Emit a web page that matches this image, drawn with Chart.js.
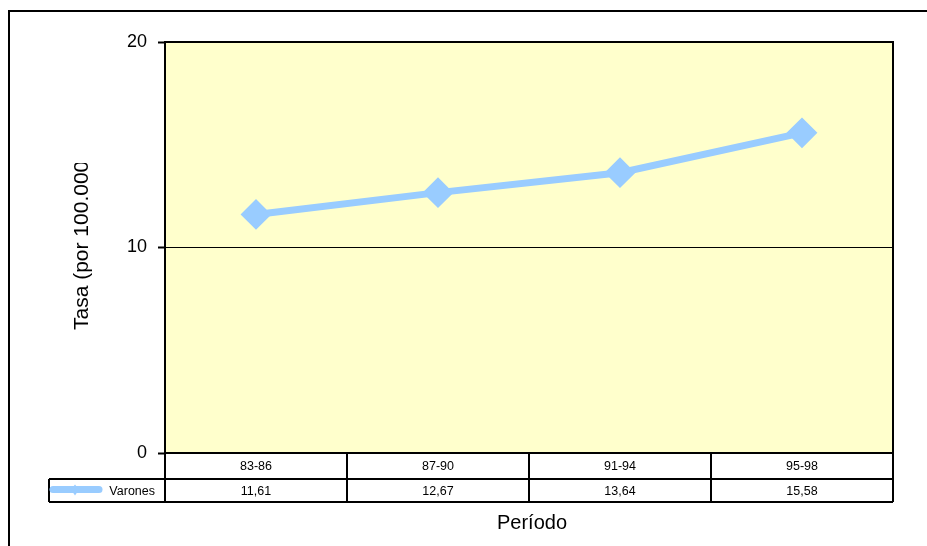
<!DOCTYPE html>
<html>
<head>
<meta charset="utf-8">
<script src="https://cdn.jsdelivr.net/npm/chart.js@4.4.1/dist/chart.umd.min.js"></script>
<style>
  html, body { margin: 0; padding: 0; background: #ffffff; }
  #wrap { width: 927px; height: 546px; position: relative; }
</style>
</head>
<body>
<div id="wrap"><canvas id="c" width="927" height="546"></canvas></div>
<script>
// Chart data
const periods = ['83-86', '87-90', '91-94', '95-98'];
const varones = [11.61, 12.67, 13.64, 15.58];
const seriesName = 'Varones';
const yTicks = [0, 10, 20];
const yTitle = 'Tasa (por 100.000 habitantes)';
const xTitle = 'Período';

const FONT = '"Liberation Sans", Arial, sans-serif';
const LINE_COLOR = '#99CCFF';

const fmt = v => v.toFixed(2).replace('.', ',');

// Backgrounds, data table, axis titles and frame
const framePlugin = {
  id: 'frame',
  beforeDraw(chart) {
    const { ctx, chartArea: a } = chart;
    ctx.save();
    ctx.fillStyle = '#ffffff';
    ctx.fillRect(0, 0, chart.width, chart.height);
    ctx.fillStyle = '#FFFFCC';
    ctx.fillRect(a.left, a.top, a.right - a.left, a.bottom - a.top);
    ctx.restore();
  },
  afterDraw(chart) {
    const { ctx, chartArea: a } = chart;
    const xs = chart.scales.x;
    ctx.save();
    ctx.strokeStyle = '#000';
    ctx.lineWidth = 2;

    // plot area border
    ctx.strokeRect(a.left, a.top, a.right - a.left, a.bottom - a.top);

    // data table grid
    const row1 = a.bottom, row2 = a.bottom + 26, row3 = a.bottom + 49;
    const legendLeft = 49;
    ctx.beginPath();
    ctx.moveTo(legendLeft, row2); ctx.lineTo(a.right, row2);
    ctx.moveTo(legendLeft, row3); ctx.lineTo(a.right, row3);
    ctx.moveTo(legendLeft, row2); ctx.lineTo(legendLeft, row3);
    ctx.moveTo(a.left, row1); ctx.lineTo(a.left, row3);
    ctx.moveTo(a.right, row1); ctx.lineTo(a.right, row3);
    for (let i = 1; i < periods.length; i++) {
      const bx = Math.round((xs.getPixelForValue(i - 1) + xs.getPixelForValue(i)) / 2);
      ctx.moveTo(bx, row1); ctx.lineTo(bx, row3);
    }
    ctx.stroke();

    // table texts
    ctx.fillStyle = '#000';
    ctx.font = '12.5px ' + FONT;
    ctx.textAlign = 'center';
    ctx.textBaseline = 'middle';
    periods.forEach((p, i) => {
      const cx = xs.getPixelForValue(i);
      ctx.fillText(p, cx, (row1 + row2) / 2 + 1);
      ctx.fillText(fmt(varones[i]), cx, (row2 + row3) / 2 + 1);
    });

    // legend key inside the table
    const ky = (row2 + row3) / 2;
    ctx.strokeStyle = LINE_COLOR;
    ctx.lineWidth = 7;
    ctx.lineCap = 'round';
    ctx.beginPath();
    ctx.moveTo(53, ky - 1); ctx.lineTo(99, ky - 1);
    ctx.stroke();
    ctx.fillStyle = LINE_COLOR;
    ctx.beginPath();
    ctx.moveTo(75, ky - 6); ctx.lineTo(79, ky - 1); ctx.lineTo(75, ky + 5); ctx.lineTo(71, ky - 1);
    ctx.closePath(); ctx.fill();
    ctx.fillStyle = '#000';
    ctx.textAlign = 'right';
    ctx.fillText(seriesName, 155, ky + 1);

    // x axis title
    ctx.font = '20px ' + FONT;
    ctx.textAlign = 'center';
    ctx.textBaseline = 'alphabetic';
    ctx.fillText(xTitle, (a.left + a.right) / 2 + 3, 529);

    // y axis title (clipped by its box)
    ctx.save();
    ctx.beginPath();
    ctx.rect(40, 163, 80, 300);
    ctx.clip();
    ctx.translate(88, 330);
    ctx.rotate(-Math.PI / 2);
    ctx.font = '21px ' + FONT;
    ctx.textAlign = 'left';
    ctx.fillText(yTitle, 0, 0);
    ctx.restore();

    // outer chart frame
    ctx.strokeStyle = '#000';
    ctx.lineWidth = 2;
    ctx.strokeRect(9, 11, 940, 560);
    ctx.restore();
  }
};

new Chart(document.getElementById('c'), {
  type: 'line',
  data: {
    labels: periods,
    datasets: [{
      label: seriesName,
      data: varones,
      borderColor: LINE_COLOR,
      backgroundColor: LINE_COLOR,
      borderWidth: 7,
      pointStyle: 'rectRot',
      pointRadius: 14,
      pointBorderWidth: 2,
      pointBorderColor: LINE_COLOR,
      pointBackgroundColor: LINE_COLOR,
      tension: 0,
      fill: false
    }]
  },
  options: {
    responsive: false,
    animation: false,
    devicePixelRatio: 1,
    layout: { padding: { left: 0, top: 42, right: 34, bottom: 0 } },
    plugins: {
      legend: { display: false },
      tooltip: { enabled: false },
      title: { display: false }
    },
    scales: {
      x: {
        type: 'category',
        offset: true,
        grid: { display: false, offset: true },
        border: { display: false },
        ticks: { display: false },
        afterFit(scale) { scale.height = 93; }
      },
      y: {
        min: 0,
        max: 20,
        afterBuildTicks(scale) { scale.ticks = yTicks.map(v => ({ value: v })); },
        grid: {
          color: '#000',
          lineWidth: 1,
          drawTicks: true,
          tickLength: 7,
          tickColor: '#000',
          tickWidth: 2
        },
        border: { display: false },
        ticks: {
          color: '#000',
          font: { family: FONT, size: 18 },
          padding: 11
        },
        afterFit(scale) { scale.width = 165; }
      }
    }
  },
  plugins: [framePlugin]
});
</script>
</body>
</html>
